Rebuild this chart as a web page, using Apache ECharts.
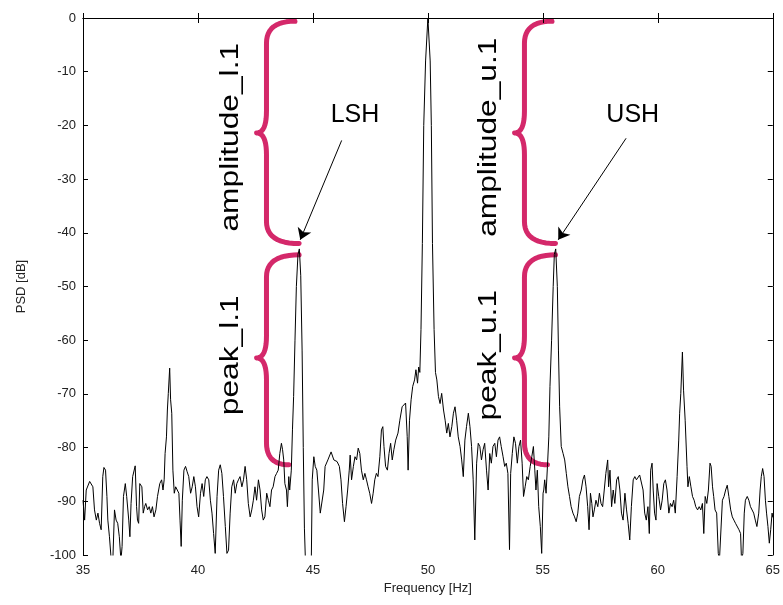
<!DOCTYPE html>
<html>
<head>
<meta charset="utf-8">
<script src="https://cdn.jsdelivr.net/npm/echarts@6/dist/echarts.min.js"></script>
<style>html,body{margin:0;padding:0;background:#fff}#c{width:783px;height:605px}</style>
</head>
<body>
<div id="c"></div>
<script>
// ---- data ----
const freq = [
35.00,35.07,35.14,35.29,35.43,35.50,35.58,35.65,35.72,35.79,35.86,35.91,35.98,36.04,36.08,36.15,36.22,36.29,36.37,36.44,
36.51,36.58,36.65,36.70,36.76,36.84,36.90,36.99,37.04,37.09,37.16,37.23,37.27,37.33,37.37,37.42,37.47,37.56,37.62,37.68,
37.73,37.81,37.88,37.95,38.02,38.09,38.17,38.24,38.34,38.42,38.48,38.53,38.57,38.63,38.67,38.71,38.77,38.81,38.86,38.91,
38.97,39.03,39.10,39.17,39.22,39.27,39.32,39.39,39.46,39.53,39.60,39.68,39.75,39.82,39.89,39.96,
40.03,40.11,40.18,40.25,40.32,40.39,40.47,40.54,40.61,40.68,40.75,40.83,40.90,40.97,41.04,41.11,41.19,41.26,41.33,41.40,
41.47,41.55,41.62,41.69,41.76,41.83,41.91,41.98,42.05,42.12,42.19,42.27,42.34,42.41,42.48,42.55,42.63,42.70,42.77,42.84,
42.91,42.99,43.06,43.13,43.20,43.27,43.35,43.42,43.49,43.56,43.63,43.68,43.73,43.78,43.85,43.89,43.95,43.99,44.06,44.11,
44.16,44.22,44.28,44.35,44.41,44.47,44.53,44.58,44.63,44.68,44.80,44.93,44.97,45.04,45.10,45.17,45.24,45.32,45.40,45.47,
45.53,45.65,45.79,45.91,46.05,46.15,46.22,46.29,46.37,46.44,46.51,46.58,46.62,46.68,46.76,46.83,46.90,46.97,47.04,47.11,
47.19,47.26,47.33,47.40,47.47,47.55,47.62,47.69,47.76,47.83,47.91,47.98,48.04,48.09,48.16,48.24,48.31,48.38,48.45,48.52,
48.60,48.70,48.78,48.88,49.03,49.10,49.14,49.20,49.27,49.34,49.42,49.48,49.55,49.60,49.65,49.70,49.76,49.82,49.90,50.00,
50.10,50.15,50.20,50.27,50.33,50.39,50.46,50.53,50.60,50.68,50.75,50.82,50.89,50.96,51.04,51.11,51.18,51.25,51.32,51.40,
51.47,51.54,51.61,51.68,51.76,51.83,51.90,51.97,52.04,52.12,52.19,52.26,52.33,52.40,52.47,52.55,52.62,52.69,52.76,52.83,
52.91,52.98,53.05,53.12,53.19,53.27,53.34,53.41,53.48,53.55,53.60,53.67,53.74,53.81,53.89,53.96,54.03,54.10,54.16,54.23,
54.30,54.37,54.45,54.52,54.59,54.65,54.70,54.76,54.82,54.89,54.95,55.01,55.04,55.08,55.14,55.20,55.26,55.31,55.38,55.45,
55.50,55.56,55.63,55.68,55.73,55.80,55.88,55.95,56.02,56.09,56.16,56.23,56.31,56.38,56.45,56.52,56.59,56.67,56.74,56.81,
56.88,56.95,57.01,57.07,57.13,57.18,57.24,57.31,57.39,57.46,57.53,57.60,57.67,57.74,57.82,57.86,57.92,57.99,58.06,58.13,
58.21,58.28,58.35,58.42,58.49,58.57,58.64,58.71,58.78,58.85,58.93,59.00,59.07,59.14,59.21,59.29,59.36,59.43,59.50,59.57,
59.63,59.69,59.75,59.80,59.86,59.92,59.97,60.04,60.12,60.19,60.26,60.33,60.40,60.48,60.55,60.62,60.69,60.76,60.84,60.91,
60.95,61.00,61.07,61.12,61.19,61.27,61.31,61.37,61.44,61.51,61.58,61.65,61.73,61.80,61.87,61.94,62.00,62.06,62.13,62.20,
62.27,62.32,62.38,62.43,62.49,62.56,62.63,62.68,62.73,62.81,62.88,62.95,63.02,63.09,63.17,63.24,63.31,63.38,63.45,63.53,
63.60,63.64,63.70,63.76,63.81,63.89,63.96,64.03,64.10,64.17,64.24,64.31,64.39,64.45,64.50,64.56,64.62,64.68,64.73,64.79,
64.85,64.91,64.97,65.00
];
const psd = [
-89.8,-93.5,-87.9,-86.3,-87.3,-91.6,-93.5,-92.2,-94.1,-95.3,-85.4,-83.7,-84.2,-89.1,-93.5,-96.6,-100.5,-102,-91.6,-93.5,
-94.1,-96.6,-101,-98.4,-89.1,-86.7,-89.1,-93.5,-96.6,-90.4,-85.4,-85.4,-83.4,-91.0,-93.5,-94.1,-86.7,-87.3,-92.2,-91.0,
-90.4,-91.6,-91.0,-92.2,-91.0,-92.9,-91.6,-89.1,-86.7,-86.0,-87.9,-86.0,-81.1,-78.0,-73.0,-69.9,-65.2,-71.1,-73.6,-84.2,
-88.5,-87.3,-87.9,-88.5,-93.5,-98.4,-89.8,-84.2,-83.5,-84.5,-85.4,-88.5,-87.3,-85.4,-87.3,-91.0,
-92.9,-88.5,-86.7,-89.1,-86.0,-85.4,-86.0,-89.8,-92.2,-96.0,-99.7,-89.1,-84.2,-83.2,-84.8,-89.1,-94.7,-99.7,-99.1,-92.2,
-87.3,-86.0,-88.5,-86.7,-86.0,-85.4,-87.3,-86.0,-83.5,-86.0,-90.4,-92.9,-91.6,-89.8,-87.3,-89.8,-86.0,-87.9,-91.6,-93.5,
-92.9,-88.5,-89.8,-91.0,-87.9,-87.3,-85.4,-84.8,-84.2,-81.1,-79.2,-80.4,-82.3,-86.7,-87.9,-91.0,-85.4,-87.9,-84.2,-76.7,
-70.5,-60,-50,-44,-43,-48,-62,-80,-95,-102,-104,-101,-86.0,-81.7,-83.5,-84.2,-87.9,-92.2,-92.2,-87.9,
-83.5,-82.3,-80.8,-82.3,-82.6,-83.5,-86.0,-90.4,-93.8,-91.0,-87.9,-84.2,-81.4,-86.0,-83.5,-81.7,-82.3,-80.1,-81.1,-84.2,
-86.0,-84.8,-86.0,-87.3,-88.5,-90.4,-88.5,-86.0,-84.8,-85.4,-81.7,-76.7,-76.1,-79.8,-83.5,-84.2,-81.1,-79.2,-82.3,-80.4,
-78.6,-77.3,-74.9,-72.4,-71.7,-77.9,-84.2,-74.9,-71.1,-68.6,-67.4,-65.5,-68,-65,-66,-58,-42,-20,-8,0,
-8,-20,-42,-58,-66,-67.4,-70.5,-71.8,-69.9,-73.0,-74.9,-77.3,-75.5,-78.0,-76.1,-73.6,-72.4,-74.9,-78.0,-79.8,
-82.3,-85.4,-78.6,-76.1,-73.6,-76.1,-79.8,-86.0,-97.2,-82.9,-79.2,-79.8,-82.3,-80.4,-79.2,-84.2,-87.9,-81.1,-82.9,-79.8,
-79.2,-81.7,-78.6,-78.0,-79.8,-81.7,-83.5,-82.9,-84.8,-99,-84.8,-81.1,-78.0,-79.2,-82.9,-79.8,-78.6,-82.9,-89.1,-87.3,
-85.4,-86.0,-83.5,-81.7,-79.8,-84.2,-87.9,-84.2,-91.0,-94.7,-99.7,-88.5,-87.9,-86.0,-88.5,-83.5,-78.0,-68.6,-60,-50,
-44,-43,-50,-62,-72.4,-79.8,-81.1,-82.3,-84.8,-87.3,-89.1,-91.0,-92.2,-92.9,-93.8,-92.2,-89.1,-87.9,-86.0,-85.1,
-87.3,-91.0,-95.3,-88.5,-90.4,-92.9,-91.6,-89.8,-91.0,-88.5,-90.4,-91.0,-87.9,-84.8,-82.3,-87.3,-84.2,-91.0,-87.9,-90.4,
-86.0,-85.4,-87.9,-92.2,-93.5,-88.5,-91.6,-94.1,-97.2,-91.0,-86.0,-85.4,-86.0,-85.7,-85.1,-85.4,-87.9,-92.2,-93.5,-91.0,
-96.0,-84.2,-82.9,-87.9,-92.2,-93.5,-86.7,-89.1,-91.6,-89.8,-86.7,-86.0,-87.9,-92.2,-90.4,-91.0,-89.8,-92.2,-85.4,-78.6,
-73.6,-69.9,-62.2,-69.3,-74.9,-83.5,-87.3,-85.4,-87.3,-89.1,-89.8,-91.0,-91.6,-91.0,-91.6,-90.4,-96.0,-89.1,-90.4,-87.9,
-82.9,-83.5,-87.3,-89.1,-91.6,-92.2,-99.7,-101,-101,-89.8,-89.1,-87.9,-87.0,-89.1,-91.6,-92.9,-93.5,-94.1,-94.1,-95.3,
-96.0,-101,-99.7,-92.2,-89.8,-89.1,-89.8,-91.0,-91.0,-92.2,-93.5,-94.7,-92.2,-87.9,-85.4,-83.9,-85.4,-89.8,-92.2,-94.7,
-97.8,-95.3,-92.2,-93.0
];
const xTicks = {min: 35, max: 65, step: 5};
const yTicks = {min: -100, max: 0, step: 10};
const xTitle = 'Frequency [Hz]';
const yTitle = 'PSD [dB]';
const harmonicLabels = ['LSH', 'USH'];
const braceLabels = ['amplitude_l.1', 'peak_l.1', 'amplitude_u.1', 'peak_u.1'];

// ---- annotation layout (data coordinates) ----
const labelPos = [[46.83, -18.1], [58.91, -18.1]];
const arrows = [
  [[46.25, -22.8], [44.45, -41.3]],
  [[58.62, -22.4], [55.67, -41.3]]
];
const braces = [
  {xBody: 42.98, xTip: 42.55, xTopEnd: 44.22, xBotEnd: 44.4, yTop: -0.6, yMid: -21.4, yBot: -42.0},
  {xBody: 42.98, xTip: 42.55, xTopEnd: 44.4, xBotEnd: 43.95, yTop: -44.1, yMid: -63.3, yBot: -83.2},
  {xBody: 54.2, xTip: 53.77, xTopEnd: 55.4, xBotEnd: 55.55, yTop: -0.6, yMid: -21.4, yBot: -42.0},
  {xBody: 54.2, xTip: 53.77, xTopEnd: 55.55, xBotEnd: 55.2, yTop: -44.1, yMid: -63.3, yBot: -83.2}
];
const braceTextPos = [[41.43, -22.2], [41.43, -62.8], [52.65, -22.2], [52.65, -62.8]];

const chart = echarts.init(document.getElementById('c'), null, {renderer: 'canvas'});
const font = 'Liberation Sans';
const axisCommon = {
  type: 'value',
  axisLine: {show: true, lineStyle: {color: '#000', width: 1}},
  axisTick: {show: true, inside: true, length: 5, lineStyle: {color: '#000'}},
  splitLine: {show: false}
};
chart.setOption({
  animation: false,
  backgroundColor: '#fff',
  grid: {left: 83, right: 6, top: 18, bottom: 50, containLabel: false},
  xAxis: [
    Object.assign({}, axisCommon, {
      min: xTicks.min, max: xTicks.max, interval: xTicks.step, position: 'bottom',
      axisLabel: {color: '#222', fontSize: 13, fontFamily: font, margin: 9},
      name: xTitle, nameLocation: 'middle', nameGap: 27,
      nameTextStyle: {color: '#222', fontSize: 13, fontFamily: font}
    }),
    Object.assign({}, axisCommon, {
      min: xTicks.min, max: xTicks.max, interval: xTicks.step, position: 'top',
      axisLabel: {show: false}
    })
  ],
  yAxis: [
    Object.assign({}, axisCommon, {
      min: yTicks.min, max: yTicks.max, interval: yTicks.step, position: 'left',
      axisLabel: {color: '#222', fontSize: 13, fontFamily: font, margin: 7},
      name: yTitle, nameLocation: 'middle', nameGap: 55, nameRotate: 90,
      nameTextStyle: {color: '#222', fontSize: 13, fontFamily: font}
    }),
    Object.assign({}, axisCommon, {
      min: yTicks.min, max: yTicks.max, interval: yTicks.step, position: 'right',
      axisLabel: {show: false}
    })
  ],
  series: [{
    type: 'line',
    xAxisIndex: 0, yAxisIndex: 0,
    data: freq.map((f, i) => [f, psd[i]]),
    showSymbol: false, symbol: 'none',
    clip: true,
    lineStyle: {color: '#000', width: 1},
    markLine: {
      silent: true,
      symbol: ['none', 'arrow'],
      symbolSize: 11,
      label: {show: false},
      lineStyle: {color: '#000', width: 1, type: 'solid'},
      data: arrows.map(a => [{coord: a[0]}, {coord: a[1]}])
    }
  }]
});

function px(p) { return chart.convertToPixel({gridIndex: 0}, p); }
function quad(pts, p0, c, p1, n) {
  for (let k = 1; k <= n; k++) {
    const t = k / n, u = 1 - t;
    pts.push([u * u * p0[0] + 2 * u * t * c[0] + t * t * p1[0], u * u * p0[1] + 2 * u * t * c[1] + t * t * p1[1]]);
  }
}
const graphics = [];
braces.forEach(b => {
  const yT = px([b.xBody, b.yTop])[1], yM = px([b.xBody, b.yMid])[1], yB = px([b.xBody, b.yBot])[1];
  const xb = px([b.xBody, b.yTop])[0];
  const xTip = px([b.xTip, b.yMid])[0];
  const xTe = px([b.xTopEnd, b.yTop])[0];
  const xBe = px([b.xBotEnd, b.yBot])[0];
  const r = 22;
  const pts = [[xTe, yT]];
  quad(pts, [xTe, yT], [xb, yT], [xb, yT + r], 12);
  pts.push([xb, yM - r]);
  quad(pts, [xb, yM - r], [xb, yM], [xTip, yM], 10);
  quad(pts, [xTip, yM], [xb, yM], [xb, yM + r], 10);
  pts.push([xb, yB - r]);
  quad(pts, [xb, yB - r], [xb, yB], [xBe, yB], 12);
  graphics.push({
    type: 'polyline', shape: {points: pts}, silent: true,
    style: {fill: null, stroke: '#d4286a', lineWidth: 5, lineCap: 'round', lineJoin: 'round'}
  });
});
braceTextPos.forEach((p, i) => {
  const q = px(p);
  graphics.push({
    type: 'text', x: q[0], y: q[1], rotation: Math.PI / 2, scaleX: 1.22, silent: true,
    style: {text: braceLabels[i], fill: '#000', fontSize: 26, fontFamily: font, align: 'center', verticalAlign: 'middle'}
  });
});
labelPos.forEach((p, i) => {
  const q = px(p);
  graphics.push({
    type: 'text', x: q[0], y: q[1], silent: true,
    style: {text: harmonicLabels[i], fill: '#000', fontSize: 25, fontFamily: font, align: 'center', verticalAlign: 'middle'}
  });
});
chart.setOption({graphic: graphics});
</script>
</body>
</html>
